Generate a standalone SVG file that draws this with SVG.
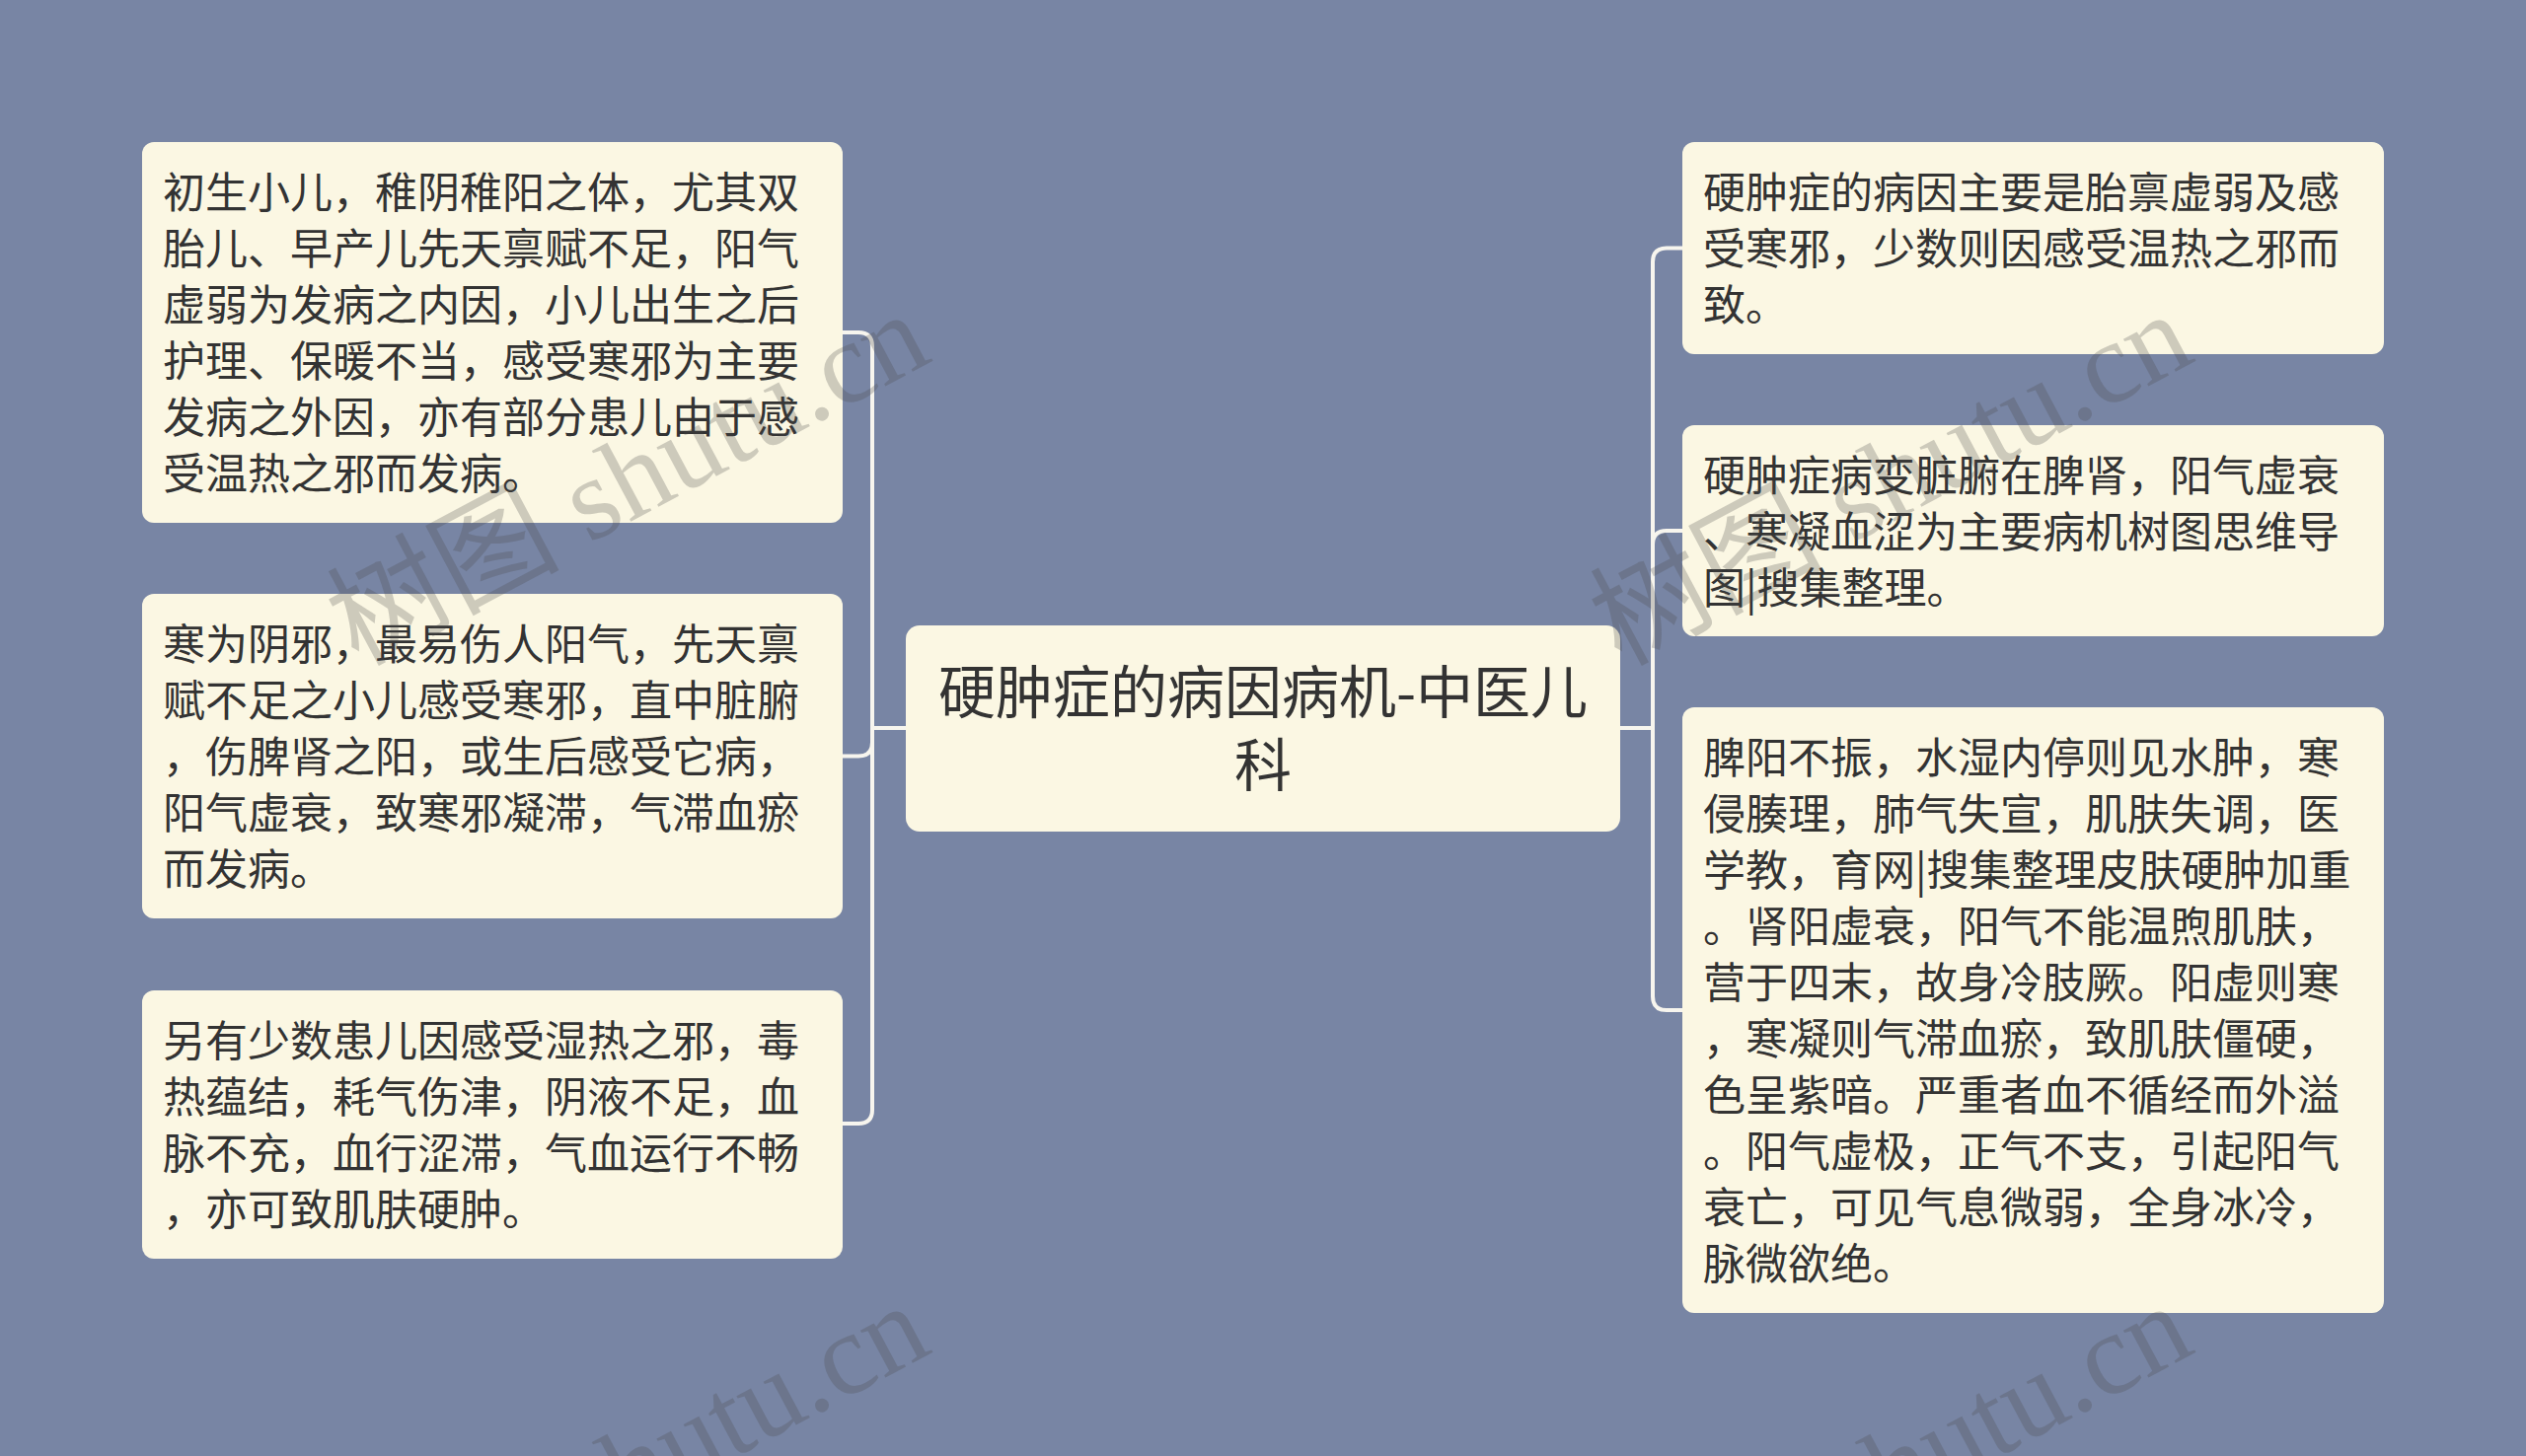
<svg xmlns="http://www.w3.org/2000/svg" width="2560" height="1476" viewBox="0 0 2560 1476">
<style>
.bg{fill:#7885A4}
.box{fill:#FBF7E3}
.t{font-family:"Noto Sans CJK SC","Noto Sans",sans-serif;font-size:43px;fill:#333333}
.ct{font-family:"Noto Sans CJK SC","Noto Sans",sans-serif;font-size:58px;fill:#333333;text-anchor:middle}
.ln{fill:none;stroke:#F7F5EE;stroke-width:4;stroke-linecap:round;stroke-linejoin:round}
.wm{font-family:"Liberation Serif","Noto Sans CJK SC",serif;font-size:118px;fill:#4A4A4A;fill-opacity:0.26;text-anchor:end}
</style>
<rect class="bg" x="0" y="0" width="2560" height="1476"/>
<g id="connectors">
<path class="ln" d="M918 738 H884 V351 Q884 337 870 337 H854"/>
<path class="ln" d="M918 738 H884 V752.5 Q884 766.5 870 766.5 H854"/>
<path class="ln" d="M918 738 H884 V1125 Q884 1139 870 1139 H854"/>
<path class="ln" d="M1642 738 H1675 V265.5 Q1675 251.5 1689 251.5 H1705"/>
<path class="ln" d="M1642 738 H1675 V552 Q1675 538 1689 538 H1705"/>
<path class="ln" d="M1642 738 H1675 V1010 Q1675 1024 1689 1024 H1705"/>
</g>
<g id="center">
<rect class="box" x="918" y="634" width="724" height="209" rx="14"/>
<text class="ct"><tspan x="1280" y="723">硬肿症的病因病机-中医儿</tspan><tspan x="1280" y="797">科</tspan></text>
</g>
<g id="left1">
<rect class="box" x="144" y="144" width="710" height="386" rx="12"/>
<text class="t"><tspan x="165" y="211">初生小儿，稚阴稚阳之体，尤其双</tspan><tspan x="165" y="268">胎儿、早产儿先天禀赋不足，阳气</tspan><tspan x="165" y="325">虚弱为发病之内因，小儿出生之后</tspan><tspan x="165" y="382">护理、保暖不当，感受寒邪为主要</tspan><tspan x="165" y="439">发病之外因，亦有部分患儿由于感</tspan><tspan x="165" y="496">受温热之邪而发病。</tspan></text>
</g>
<g id="left2">
<rect class="box" x="144" y="602" width="710" height="329" rx="12"/>
<text class="t"><tspan x="165" y="669">寒为阴邪，最易伤人阳气，先天禀</tspan><tspan x="165" y="726">赋不足之小儿感受寒邪，直中脏腑</tspan><tspan x="165" y="783">，伤脾肾之阳，或生后感受它病，</tspan><tspan x="165" y="840">阳气虚衰，致寒邪凝滞，气滞血瘀</tspan><tspan x="165" y="897">而发病。</tspan></text>
</g>
<g id="left3">
<rect class="box" x="144" y="1004" width="710" height="272" rx="12"/>
<text class="t"><tspan x="165" y="1071">另有少数患儿因感受湿热之邪，毒</tspan><tspan x="165" y="1128">热蕴结，耗气伤津，阴液不足，血</tspan><tspan x="165" y="1185">脉不充，血行涩滞，气血运行不畅</tspan><tspan x="165" y="1242">，亦可致肌肤硬肿。</tspan></text>
</g>
<g id="right1">
<rect class="box" x="1705" y="144" width="711" height="215" rx="12"/>
<text class="t"><tspan x="1726" y="211">硬肿症的病因主要是胎禀虚弱及感</tspan><tspan x="1726" y="268">受寒邪，少数则因感受温热之邪而</tspan><tspan x="1726" y="325">致。</tspan></text>
</g>
<g id="right2">
<rect class="box" x="1705" y="431" width="711" height="214" rx="12"/>
<text class="t"><tspan x="1726" y="498">硬肿症病变脏腑在脾肾，阳气虚衰</tspan><tspan x="1726" y="555">、寒凝血涩为主要病机树图思维导</tspan><tspan x="1726" y="612">图|搜集整理。</tspan></text>
</g>
<g id="right3">
<rect class="box" x="1705" y="717" width="711" height="614" rx="12"/>
<text class="t"><tspan x="1726" y="784">脾阳不振，水湿内停则见水肿，寒</tspan><tspan x="1726" y="841">侵腠理，肺气失宣，肌肤失调，医</tspan><tspan x="1726" y="898">学教，育网|搜集整理皮肤硬肿加重</tspan><tspan x="1726" y="955">。肾阳虚衰，阳气不能温煦肌肤，</tspan><tspan x="1726" y="1012">营于四末，故身冷肢厥。阳虚则寒</tspan><tspan x="1726" y="1069">，寒凝则气滞血瘀，致肌肤僵硬，</tspan><tspan x="1726" y="1126">色呈紫暗。严重者血不循经而外溢</tspan><tspan x="1726" y="1183">。阳气虚极，正气不支，引起阳气</tspan><tspan x="1726" y="1240">衰亡，可见气息微弱，全身冰冷，</tspan><tspan x="1726" y="1297">脉微欲绝。</tspan></text>
</g>
<g id="watermarks">
<text class="wm" transform="translate(947 365) rotate(-28)" x="0" y="0">树图 shutu.cn</text>
<text class="wm" transform="translate(2227 365) rotate(-28)" x="0" y="0">树图 shutu.cn</text>
<text class="wm" transform="translate(947 1370) rotate(-28)" x="0" y="0">树图 shutu.cn</text>
<text class="wm" transform="translate(2227 1370) rotate(-28)" x="0" y="0">树图 shutu.cn</text>
</g>
</svg>
